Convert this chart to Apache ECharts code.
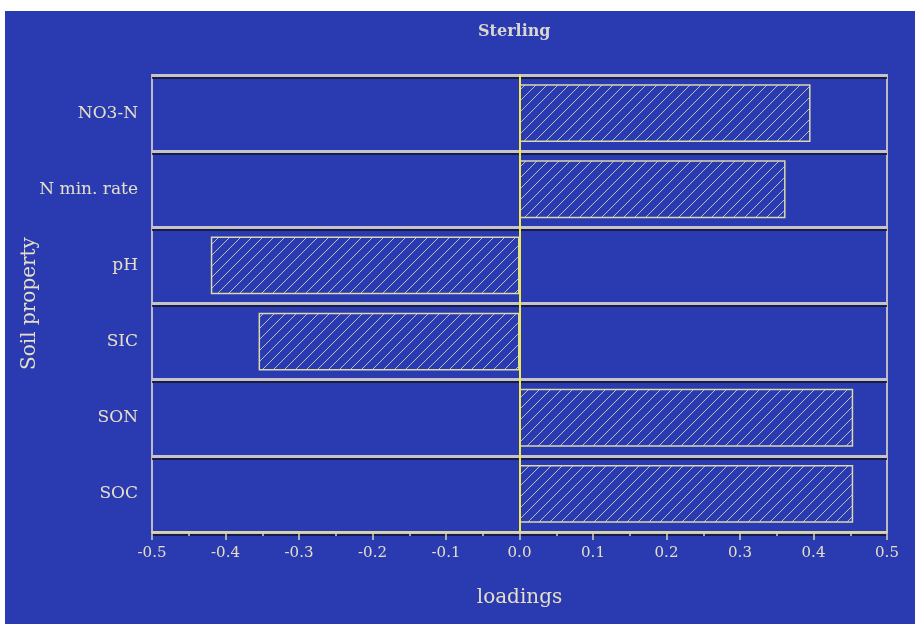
<!DOCTYPE html>
<html>
<head>
<meta charset="utf-8">
<script src="https://cdn.jsdelivr.net/npm/echarts@6/dist/echarts.min.js"></script>
<style>
  html, body { margin: 0; padding: 0; background: #ffffff; }
  #chart { position: absolute; left: 5px; top: 11px; width: 910px; height: 613px; background: #2a3ab0; }
</style>
</head>
<body>
<div id="chart"></div>
<script>
// Soil property loadings, Sterling site
const properties = ['NO3-N', 'N min. rate', 'pH', 'SIC', 'SON', 'SOC'];
const loadings = [0.396, 0.362, -0.42, -0.355, 0.454, 0.454];
const tickMin = -0.5;
const tickMax = 0.5;
const tickStep = 0.1;

// Diagonal hatch fill for the bars
function hatchPattern() {
  const s = 11;
  const c = document.createElement('canvas');
  c.width = s; c.height = s;
  const g = c.getContext('2d');
  g.fillStyle = '#2a3ab0';
  g.fillRect(0, 0, s, s);
  g.strokeStyle = 'rgba(226,224,196,0.8)';
  g.lineWidth = 1;
  g.beginPath();
  g.moveTo(-1, s + 1); g.lineTo(s + 1, -1);
  g.moveTo(-2, 1); g.lineTo(1, -2);
  g.moveTo(s - 1, s + 2); g.lineTo(s + 2, s - 1);
  g.stroke();
  return c;
}

const serif = '"DejaVu Serif", "Liberation Serif", serif';
const textColor = '#e4dfc6';

const chart = echarts.init(document.getElementById('chart'));
chart.setOption({
  backgroundColor: '#2a3ab0',
  animation: false,
  title: {
    text: 'Sterling',
    left: 468,
    top: 8,
    textStyle: { fontFamily: serif, fontSize: 16, fontWeight: 'bold', color: '#d9d6d2' }
  },
  grid: {
    left: 147, right: 28, top: 64, bottom: 92,
    outerBoundsMode: 'none',
    containLabel: false,
    show: true, borderColor: '#bdbac4', borderWidth: 2
  },
  xAxis: {
    type: 'value',
    min: tickMin, max: tickMax, interval: tickStep,
    name: 'loadings',
    nameLocation: 'middle',
    nameGap: 56,
    nameMoveOverlap: false,
    nameTextStyle: { fontFamily: serif, fontSize: 20, color: textColor },
    axisLine: { show: true, lineStyle: { color: '#d8d4a8', width: 2 } },
    axisTick: { show: true, length: 8, lineStyle: { color: '#d8d4b8', width: 1.5 } },
    minorTick: { show: true, splitNumber: 2, length: 4, lineStyle: { color: '#d8d4b8', width: 1.5 } },
    splitLine: { show: false },
    axisLabel: {
      fontFamily: serif, fontSize: 15, color: textColor, margin: 14,
      formatter: v => v.toFixed(1)
    }
  },
  yAxis: {
    type: 'category',
    data: properties,
    inverse: true,
    name: 'Soil property',
    nameLocation: 'middle',
    nameGap: 112,
    nameMoveOverlap: false,
    nameTextStyle: { fontFamily: serif, fontSize: 20, color: textColor },
    axisLine: { show: true, lineStyle: { color: '#e6de6a', width: 2 } },
    axisTick: { show: false },
    splitLine: { show: true, lineStyle: { color: '#c6c4c8', width: 3, shadowColor: 'rgba(20,20,40,0.8)', shadowOffsetY: 2, shadowBlur: 0 } },
    axisLabel: { fontFamily: serif, fontSize: 17, color: textColor, margin: 14 }
  },
  series: [{
    type: 'bar',
    data: loadings,
    barWidth: '76%',
    itemStyle: {
      color: { image: hatchPattern(), repeat: 'repeat' },
      borderColor: '#dcd8a8',
      borderWidth: 1.5
    },
    markLine: {
      silent: true,
      symbol: 'none',
      label: { show: false },
      lineStyle: { color: '#f0e850', width: 2, type: 'solid' },
      data: [{ xAxis: 0 }]
    }
  }]
});
</script>
</body>
</html>
